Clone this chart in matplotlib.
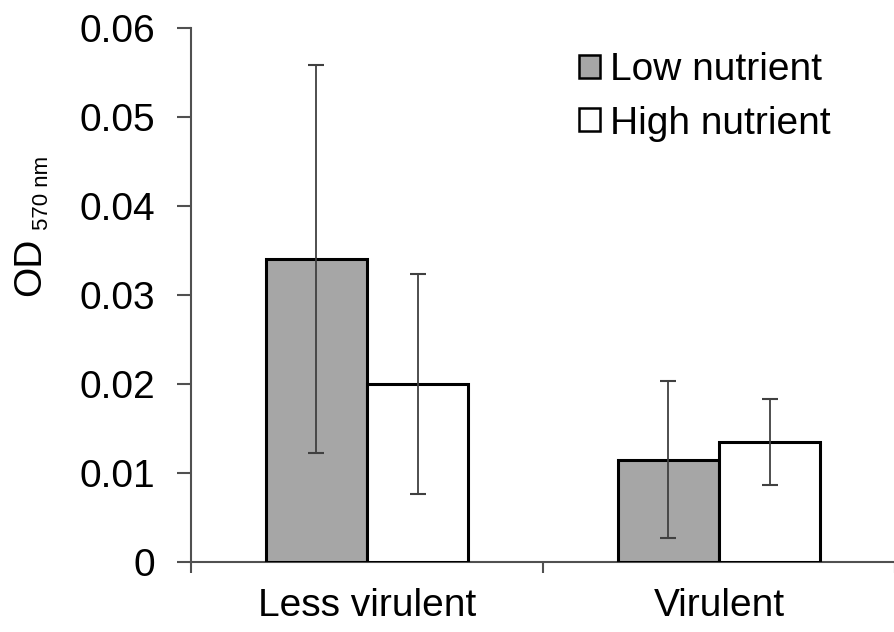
import matplotlib.pyplot as plt
from matplotlib.patches import Patch

plt.rcParams['font.family'] = ['Liberation Sans', 'DejaVu Sans']

groups = ["Less virulent", "Virulent"]
low_vals = [0.034, 0.0115]
low_err = [0.0218, 0.0088]
high_vals = [0.020, 0.0135]
high_err = [0.0124, 0.0048]
yticks = [0, 0.01, 0.02, 0.03, 0.04, 0.05, 0.06]
ytick_labels = ["0", "0.01", "0.02", "0.03", "0.04", "0.05", "0.06"]

fig = plt.figure(figsize=(8.95, 6.32), dpi=100)
ax = fig.add_axes([191 / 895, 1 - 562 / 632, 1 - 191 / 895, (562 - 28) / 632])

x = list(range(len(groups)))
w = 0.287
ekw = dict(ecolor="#404040", elinewidth=1.3, capsize=6, capthick=1.5)
ax.bar([i - w / 2 for i in x], low_vals, w, color="#a6a6a6", edgecolor="black",
       linewidth=2.2, yerr=low_err, error_kw=ekw, label="Low nutrient", zorder=2)
ax.bar([i + w / 2 for i in x], high_vals, w, color="white", edgecolor="black",
       linewidth=2.2, yerr=high_err, error_kw=ekw, label="High nutrient", zorder=2)

ax.set_xlim(-0.5, 1.49)
ax.set_ylim(0, 0.06)
ax.set_yticks(yticks)
ax.set_yticklabels(ytick_labels, fontsize=28)
ax.set_xticks(x)
ax.set_xticklabels(groups, fontsize=28)
ax.set_xticks([-0.5, 0.5, 1.5], minor=True)
ax.tick_params(axis="x", which="major", length=0, pad=19)
ax.tick_params(axis="x", which="minor", length=8, width=1.5, color="#505050", direction="out")
ax.tick_params(axis="y", length=10, width=1.5, color="#505050", pad=16)

for s in ["top", "right"]:
    ax.spines[s].set_visible(False)
for s in ["left", "bottom"]:
    ax.spines[s].set_color("#505050")
    ax.spines[s].set_linewidth(1.5)
ax.spines["bottom"].set_zorder(1)

fig.text(30 / 895, 1 - 267 / 632, "OD", rotation=90, fontsize=28, ha="center", va="center")
fig.text(43 / 895, 1 - 193 / 632, "570 nm", rotation=90, fontsize=16, ha="center", va="center")

handles = [Patch(facecolor="#a6a6a6", edgecolor="black", linewidth=1.8),
           Patch(facecolor="white", edgecolor="black", linewidth=1.8)]
fig.legend(handles, ["Low nutrient", "High nutrient"], loc="upper left",
           bbox_to_anchor=(579 / 895, 1 - 52 / 632), frameon=False, fontsize=28,
           handlelength=0.55, handleheight=0.55, handletextpad=0.25, labelspacing=0.45,
           borderpad=0, borderaxespad=0)

fig.savefig("out.png", dpi=100)
